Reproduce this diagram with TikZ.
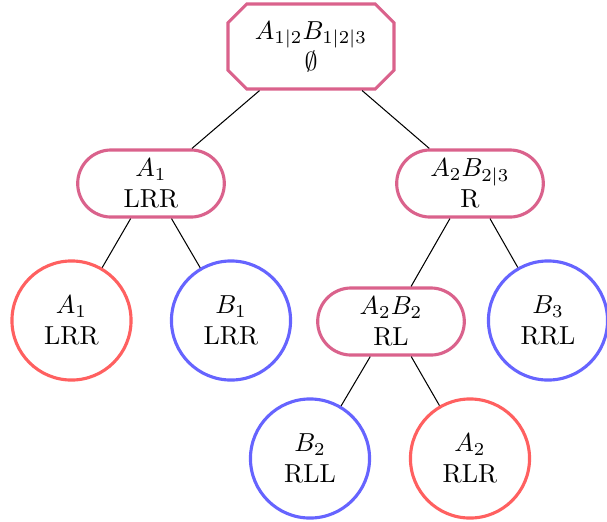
\documentclass[tikz,border=0pt]{standalone}
\usetikzlibrary{shapes.misc}
\definecolor{splitpink}{RGB}{218,98,140}
\definecolor{leafred}{RGB}{255,96,96}
\definecolor{leafblue}{RGB}{102,100,255}
\begin{document}
\begin{tikzpicture}[x=0.3846pt,y=-0.3846pt,
  every node/.style={align=center,font=\normalsize},
  rootbox/.style={chamfered rectangle, chamfered rectangle xsep=3.6pt,
    chamfered rectangle ysep=3.6pt, draw=splitpink, line width=1.2pt,
    minimum width=63.8pt, minimum height=32.7pt, inner sep=1pt},
  splitbox/.style={rounded rectangle, draw=splitpink, line width=1.2pt,
    minimum width=58.4pt, minimum height=25.8pt, inner sep=1pt},
  leaf/.style={circle, line width=1.2pt, minimum size=45.8pt, inner sep=1pt},
  redleaf/.style={leaf, draw=leafred},
  blueleaf/.style={leaf, draw=leafblue},
  link/.style={draw=black, line width=0.4pt}]
\useasboundingbox (0,0) rectangle (607,521);
\node[rootbox] (root) at (311,46.5) {$A_{1|2}B_{1|2|3}$\\$\emptyset$};
\node[splitbox] (l) at (151,183.5) {$A_1$\\LRR};
\node[splitbox] (r) at (470,183.5) {$A_2B_{2|3}$\\R};
\node[redleaf] (ll) at (71.5,320.5) {$A_1$\\LRR};
\node[blueleaf] (lr) at (231,320.5) {$B_1$\\LRR};
\node[splitbox] (rl) at (391,321.5) {$A_2B_2$\\RL};
\node[blueleaf] (rr) at (548,320.5) {$B_3$\\RRL};
\node[blueleaf] (rll) at (310,458.5) {$B_2$\\RLL};
\node[redleaf] (rlr) at (470,458.5) {$A_2$\\RLR};
\draw[link] (root) -- (l);
\draw[link] (root) -- (r);
\draw[link] (l) -- (ll);
\draw[link] (l) -- (lr);
\draw[link] (r) -- (rl);
\draw[link] (r) -- (rr);
\draw[link] (rl) -- (rll);
\draw[link] (rl) -- (rlr);
\end{tikzpicture}
\end{document}
